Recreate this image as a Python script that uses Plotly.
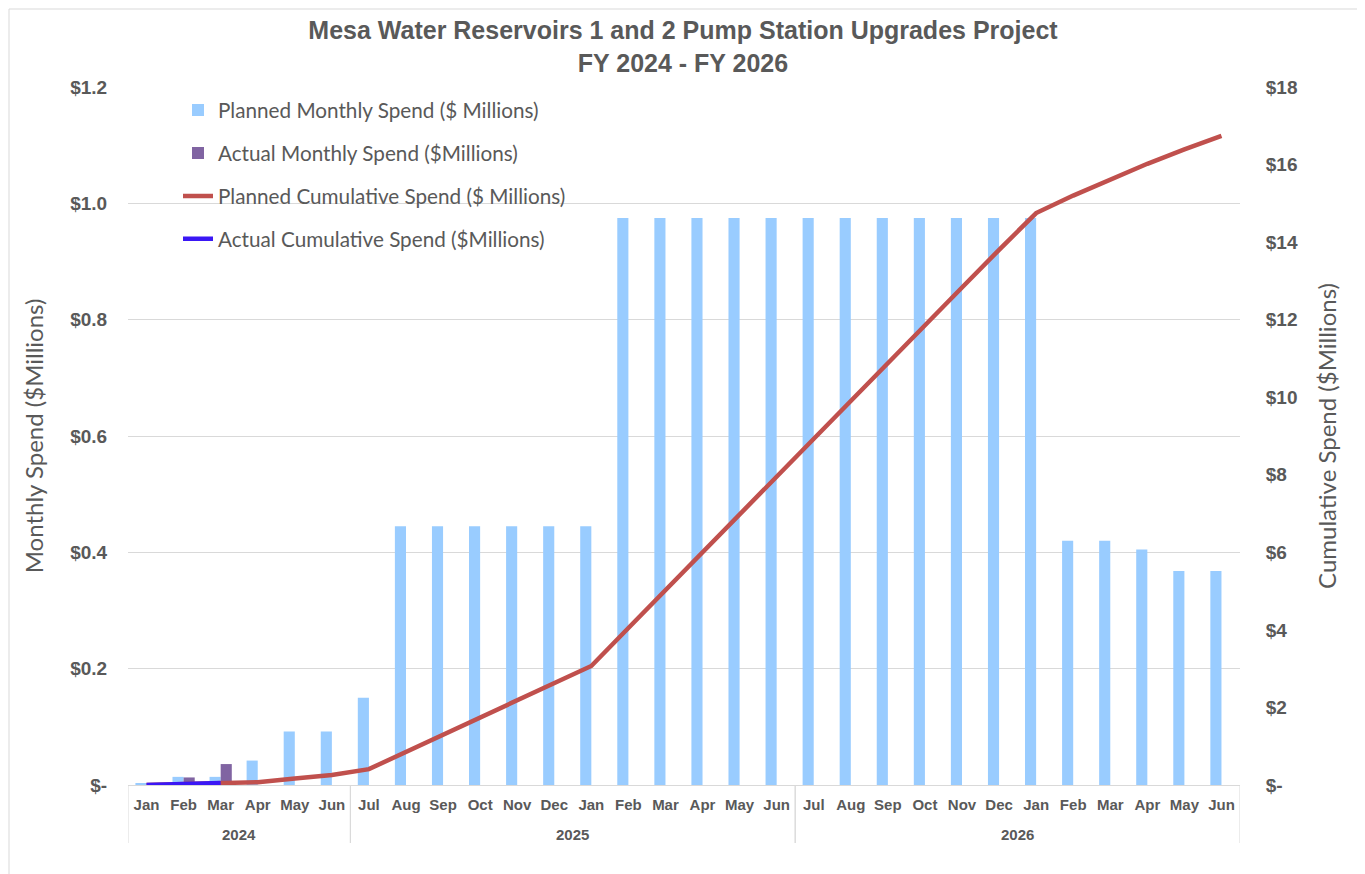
import plotly.graph_objects as go

fiscal_years = ["2024"] * 6 + ["2025"] * 12 + ["2026"] * 12
months = ["Jan", "Feb", "Mar", "Apr", "May", "Jun",
          "Jul", "Aug", "Sep", "Oct", "Nov", "Dec", "Jan", "Feb", "Mar", "Apr", "May", "Jun",
          "Jul", "Aug", "Sep", "Oct", "Nov", "Dec", "Jan", "Feb", "Mar", "Apr", "May", "Jun"]

planned_monthly = [0.003, 0.014, 0.014, 0.042, 0.092, 0.092,
                   0.150, 0.445, 0.445, 0.445, 0.445, 0.445, 0.445, 0.975, 0.975, 0.975, 0.975, 0.975,
                   0.975, 0.975, 0.975, 0.975, 0.975, 0.975, 0.975, 0.420, 0.420, 0.405, 0.368, 0.368]
actual_monthly = [0.0, 0.013, 0.036] + [None] * 27

planned_cumulative = [0.003, 0.017, 0.031, 0.073, 0.165, 0.257,
                      0.41, 0.85, 1.30, 1.74, 2.19, 2.63, 3.07, 4.05, 5.03, 6.00, 6.98, 7.95,
                      8.93, 9.90, 10.88, 11.85, 12.83, 13.80, 14.75, 15.20, 15.62, 16.02, 16.39, 16.74]
actual_cumulative = [0.0, 0.013, 0.049] + [None] * 27

left_tickvals = [0, 0.2, 0.4, 0.6, 0.8, 1.0, 1.2]
left_ticktext = ["$-", "$0.2", "$0.4", "$0.6", "$0.8", "$1.0", "$1.2"]
right_tickvals = [0, 2, 4, 6, 8, 10, 12, 14, 16, 18]
right_ticktext = ["$-", "$2", "$4", "$6", "$8", "$10", "$12", "$14", "$16", "$18"]

# Month labels repeat across fiscal years; make each category unique
# (invisible zero-width suffix) so the category axis keeps the time order.
seen = {}
month_keys = []
for m in months:
    n = seen.get(m, 0)
    month_keys.append(m + "\u200b" * n)
    seen[m] = n + 1

gray = "#595959"
grid = "#D9D9D9"

# page offset: the browser page has an 8px body margin
W, H = 1357, 866
ML, MT, MR, MB = 120, 79, 125, 89
PW, PH = W - ML - MR, H - MT - MB

fig = go.Figure()
fig.add_trace(go.Bar(x=month_keys, y=planned_monthly, name="Planned Monthly Spend ($ Millions)",
                     marker=dict(color="#99CCFF", line=dict(width=0)), legendgroup="a"))
fig.add_trace(go.Bar(x=month_keys, y=actual_monthly, name="Actual Monthly Spend ($Millions)",
                     marker=dict(color="#8064A2", line=dict(width=0)), legendgroup="b"))
fig.add_trace(go.Scatter(x=month_keys, y=planned_cumulative, name="Planned Cumulative Spend ($ Millions)",
                         mode="lines", line=dict(color="#C0504D", width=4.5), yaxis="y2", legendgroup="c"))
fig.add_trace(go.Scatter(x=month_keys, y=actual_cumulative, name="Actual Cumulative Spend ($Millions)",
                         mode="lines", line=dict(color="#3A17F5", width=4.5), yaxis="y2", legendgroup="d"))

# fiscal-year group labels and dividers
annotations = []
shapes = []
groups = []
for i, fy in enumerate(fiscal_years):
    if not groups or groups[-1][0] != fy:
        groups.append([fy, i, i])
    else:
        groups[-1][2] = i
label_y = -(834 - 785) / PH
div_y = -(843 - 785) / PH
for fy, a, b in groups:
    annotations.append(dict(x=(a + b) / 2, y=label_y, xref="x", yref="paper", text="<b>" + fy + "</b>",
                            showarrow=False, xanchor="center", yanchor="middle",
                            font=dict(family="Liberation Sans, Arial", size=15, color=gray)))
    for edge in (a - 0.5, b + 0.5):
        shapes.append(dict(type="line", xref="x", yref="paper", x0=edge, x1=edge, y0=0, y1=div_y,
                           line=dict(color=grid, width=1)))

shapes.append(dict(type="rect", xref="paper", yref="paper",
                   x0=(1 - ML) / PW, x1=(1352 - ML) / PW, y0=-(H + 20 - (H - MB)) / PH, y1=(PH + MT - 1) / PH,
                   line=dict(color=grid, width=1), fillcolor="rgba(0,0,0,0)", layer="below"))

fig.update_layout(
    width=W, height=H,
    margin=dict(l=ML, r=MR, t=MT, b=MB, autoexpand=False),
    paper_bgcolor="white", plot_bgcolor="white",
    barmode="group", bargap=0.4, bargroupgap=0,
    title=dict(text="<b>Mesa Water Reservoirs 1 and 2 Pump Station Upgrades Project<br>FY 2024 - FY 2026</b>",
               x=(683 - 8) / W, xanchor="center", y=1 - 31 / H, yanchor="top",
               font=dict(family="Liberation Sans, Arial", size=25, color=gray)),
    font=dict(family="Liberation Sans, Arial", color=gray),
    legend=dict(x=(178 - 8 - ML) / PW, y=0.9955, xanchor="left", yanchor="top", bgcolor="rgba(0,0,0,0)",
                font=dict(family="Lato, Carlito, Calibri", size=20.7, color=gray),
                tracegroupgap=13, traceorder="grouped"),
    xaxis=dict(type="category", showline=True, linecolor=grid, linewidth=1, tickangle=0, automargin=False,
               tickfont=dict(family="Liberation Sans, Arial", size=15, color=gray, weight="bold"),
               ticks="outside", ticklen=6, tickcolor="rgba(0,0,0,0)",
               showgrid=False, range=[-0.5, len(months) - 0.5]),
    yaxis=dict(range=[0, 1.2], tickvals=left_tickvals, ticktext=left_ticktext, automargin=False,
               showgrid=True, gridcolor=grid, gridwidth=1, zeroline=False, showline=False,
               ticks="outside", ticklen=16, tickcolor="rgba(0,0,0,0)",
               tickfont=dict(family="Liberation Sans, Arial", size=19, color=gray, weight="bold"),
               title=dict(text="Monthly Spend ($Millions)", standoff=19,
                          font=dict(family="Lato, Carlito, Calibri", size=24, color=gray))),
    yaxis2=dict(range=[0, 18], tickvals=right_tickvals, ticktext=right_ticktext, overlaying="y", side="right",
                showgrid=False, zeroline=False, showline=False, automargin=False,
                ticks="outside", ticklen=21, tickcolor="rgba(0,0,0,0)",
                tickfont=dict(family="Liberation Sans, Arial", size=19, color=gray, weight="bold"),
                title=dict(text="Cumulative Spend ($Millions)", standoff=22,
                           font=dict(family="Lato, Carlito, Calibri", size=24, color=gray))),
    annotations=annotations,
    shapes=shapes,
)

fig.write_html("out.html")
